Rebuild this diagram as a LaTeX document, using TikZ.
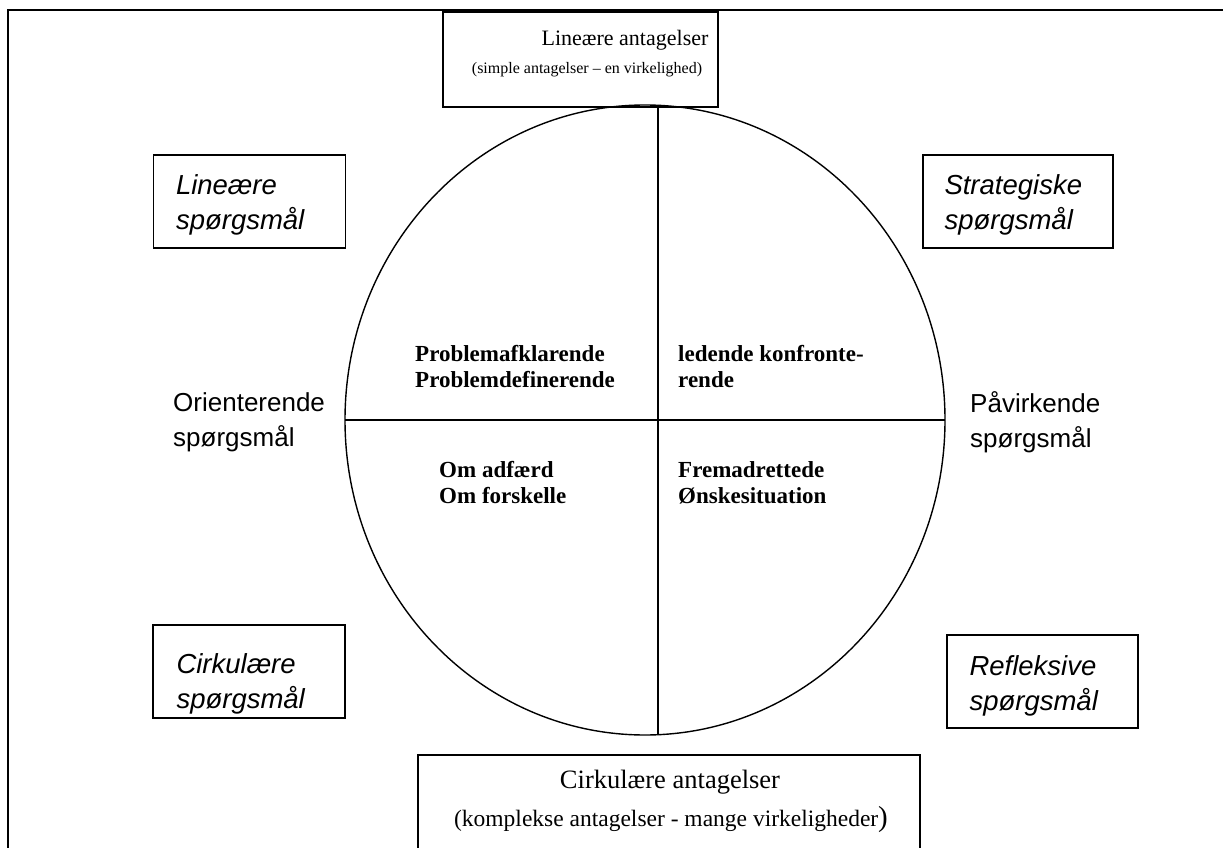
\documentclass[tikz,border=0pt]{standalone}
\usepackage{fontspec}
\setmainfont{Liberation Serif}
\newfontfamily\arialfont{Liberation Sans}
\usetikzlibrary{positioning}

\begin{document}
\begin{tikzpicture}[
    x=1pt, y=-1pt,
    frame/.style={draw, line width=1.4pt, inner sep=0pt},
    qbox/.style={frame, minimum height=93pt},
    qtext/.style={align=left, inner sep=0pt, font=\arialfont\itshape\fontsize{27.5}{35}\selectfont},
    side/.style={align=left, anchor=west, inner sep=0pt, font=\arialfont\fontsize{26}{35}\selectfont},
    quad/.style={align=left, anchor=west, inner sep=0pt, font=\bfseries\fontsize{23}{26}\selectfont},
    divider/.style={line width=1.4pt}
]
\useasboundingbox (0,0) rectangle (1223,848);
\clip (0,0) rectangle (1223,848);

% outer frame (cut at right and bottom)
\draw[line width=2.4pt] (8,860) -- (8,10) -- (1230,10);

% assumptions boxes
\node[frame, minimum width=275pt, minimum height=95pt] (linbox) at (580.5,59.5) {};
\node[inner sep=0pt, font=\fontsize{22}{24}\selectfont] (lintitle) at (625,40) {Lineære antagelser};
\node[inner sep=0pt, font=\fontsize{16}{18}\selectfont] (linsub) at (587,70) {(simple antagelser -- en virkelighed)};
\node[frame, minimum width=502pt, minimum height=120pt] (cirkbox) at (669,815) {};
\node[inner sep=0pt, font=\fontsize{26.5}{28}\selectfont] (cirktitle) at (670,782) {Cirkulære antagelser};
\node[inner sep=0pt, font=\fontsize{23.5}{26}\selectfont] (cirksub) at (671,820) {(komplekse antagelser - mange virkeligheder\fontsize{29}{29}\selectfont)};

% the circle and its quarters
\draw[line width=1.4pt] (645,420) ellipse [x radius=300, y radius=315];
\coordinate (ctop) at (658,105);
\coordinate (cbot) at (658,735);
\coordinate (cleft) at (345,420);
\coordinate (cright) at (945,420);
\draw[divider] (ctop) -- (cbot);
\draw[divider] (cleft) -- (cright);

\node[quad] (q1) at (415,367) {Problemafklarende\\Problemdefinerende};
\node[quad] (q2) at (678,367) {ledende konfronte-\\rende};
\node[quad] (q3) at (439,483) {Om adfærd\\Om forskelle};
\node[quad] (q4) at (678,483) {Fremadrettede\\Ønskesituation};

% question types
\node[qbox, minimum width=192pt] (linq) at (249.5,201.5) {};
\node[qbox, minimum width=190pt] (strq) at (1018,201.5) {};
\node[qbox, minimum width=192pt] (cirq) at (249,671.5) {};
\node[qbox, minimum width=191pt] (refq) at (1042.5,681.5) {};
\node[qtext, right=23pt of linq.west, anchor=west, yshift=-3pt] (linqtext) {Lineære\\spørgsmål};
\node[qtext, right=22pt of strq.west, anchor=west, yshift=-3pt] (strqtext) {Strategiske\\spørgsmål};
\node[qtext, right=24pt of cirq.west, anchor=west, yshift=-12pt] (cirqtext) {Cirkulære\\spørgsmål};
\node[qtext, right=23pt of refq.west, anchor=west, yshift=-4pt] (refqtext) {Refleksive\\spørgsmål};

\node[side] (orient) at (173,422) {Orienterende\\spørgsmål};
\node[side] (paavirk) at (970,422) {Påvirkende\\spørgsmål};
\end{tikzpicture}
\end{document}
